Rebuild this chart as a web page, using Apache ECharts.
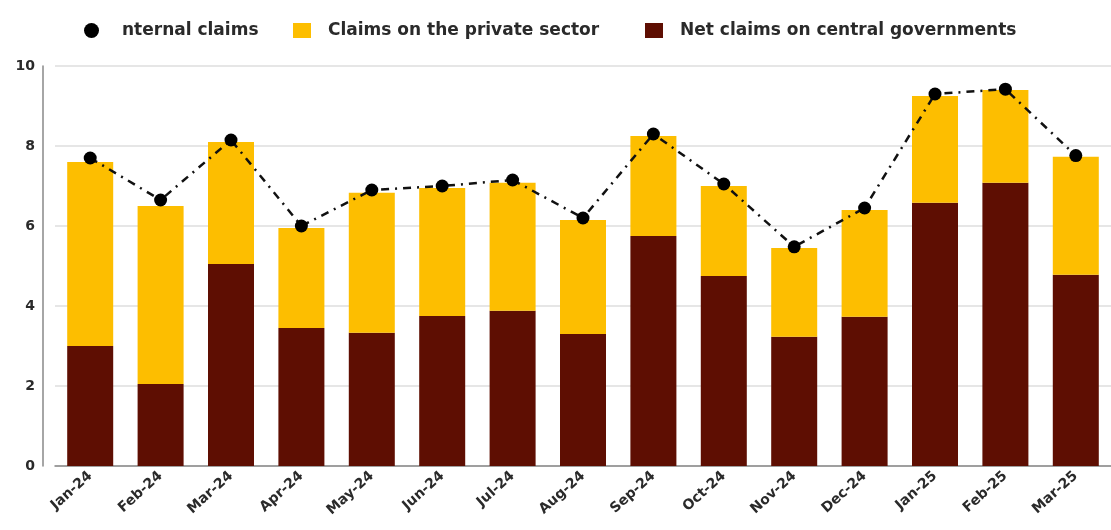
<!DOCTYPE html>
<html>
<head>
<meta charset="utf-8">
<script src="https://cdn.jsdelivr.net/npm/echarts@6/dist/echarts.min.js"></script>
<style>
  html, body { margin: 0; padding: 0; background: #fff; }
  #chart { width: 1111px; height: 530px; }
</style>
</head>
<body>
<div id="chart"></div>
<script>
// Monthly claims, stacked by component, with the overall internal claims line
const months = ['Jan-24', 'Feb-24', 'Mar-24', 'Apr-24', 'May-24', 'Jun-24', 'Jul-24', 'Aug-24',
                'Sep-24', 'Oct-24', 'Nov-24', 'Dec-24', 'Jan-25', 'Feb-25', 'Mar-25'];
const netClaimsGov = [3.0, 2.05, 5.05, 3.45, 3.33, 3.75, 3.88, 3.3, 5.75, 4.75, 3.23, 3.73, 6.58, 7.08, 4.78];
const claimsPrivate = [4.6, 4.45, 3.05, 2.5, 3.5, 3.2, 3.2, 2.85, 2.5, 2.25, 2.22, 2.67, 2.67, 2.32, 2.95];
const internalClaims = [7.7, 6.65, 8.15, 6.0, 6.9, 7.0, 7.15, 6.2, 8.3, 7.05, 5.48, 6.45, 9.3, 9.42, 7.76];
const yTicks = { min: 0, max: 10, interval: 2 };

const NAME_LINE = 'nternal claims';
const NAME_PRIVATE = 'Claims on the private sector';
const NAME_GOV = 'Net claims on central governments';

const MAROON = '#5e0e02';
const YELLOW = '#fdbe00';
const TEXT = '#2a2a2a';
const FONT = 'DejaVu Sans, Verdana, sans-serif';

const legendText = { color: TEXT, fontSize: 17, fontWeight: 'bold', fontFamily: FONT };

function legendItem(left, name, icon, w, gap) {
  return {
    top: 22, left: left, padding: 0, itemWidth: w, itemHeight: 15,
    textStyle: Object.assign({}, legendText, { padding: [0, 0, 0, gap] }),
    data: [{ name: name, icon: icon }]
  };
}

const chart = echarts.init(document.getElementById('chart'));
chart.setOption({
  animation: false,
  textStyle: { fontFamily: FONT },
  legend: [
    legendItem(84, NAME_LINE, 'circle', 15, 18),
    legendItem(293, NAME_PRIVATE, 'rect', 18, 12),
    legendItem(645, NAME_GOV, 'rect', 18, 12)
  ],
  grid: { left: 55, right: 0, top: 66, bottom: 64 },
  xAxis: {
    type: 'category',
    data: months,
    axisLine: { lineStyle: { color: '#888', width: 1.5 } },
    axisTick: { show: false },
    axisLabel: { rotate: 42, color: TEXT, fontSize: 14, fontWeight: 'bold', margin: 8 }
  },
  yAxis: {
    type: 'value',
    min: yTicks.min,
    max: yTicks.max,
    interval: yTicks.interval,
    offset: 12,
    axisLine: { show: true, lineStyle: { color: '#888', width: 1.5 } },
    axisTick: { show: false },
    axisLabel: { color: TEXT, fontSize: 14, fontWeight: 'bold', margin: 8 },
    splitLine: { lineStyle: { color: '#dedede', width: 1.5 } }
  },
  series: [
    {
      name: NAME_GOV,
      type: 'bar',
      stack: 'claims',
      barWidth: 46,
      itemStyle: { color: MAROON },
      data: netClaimsGov
    },
    {
      name: NAME_PRIVATE,
      type: 'bar',
      stack: 'claims',
      barWidth: 46,
      itemStyle: { color: YELLOW },
      data: claimsPrivate
    },
    {
      name: NAME_LINE,
      type: 'line',
      symbol: 'circle',
      symbolSize: 13,
      z: 5,
      itemStyle: { color: '#000' },
      lineStyle: { color: '#111', width: 2.5, type: [8, 6, 2, 6] },
      data: internalClaims
    }
  ]
});
</script>
</body>
</html>
